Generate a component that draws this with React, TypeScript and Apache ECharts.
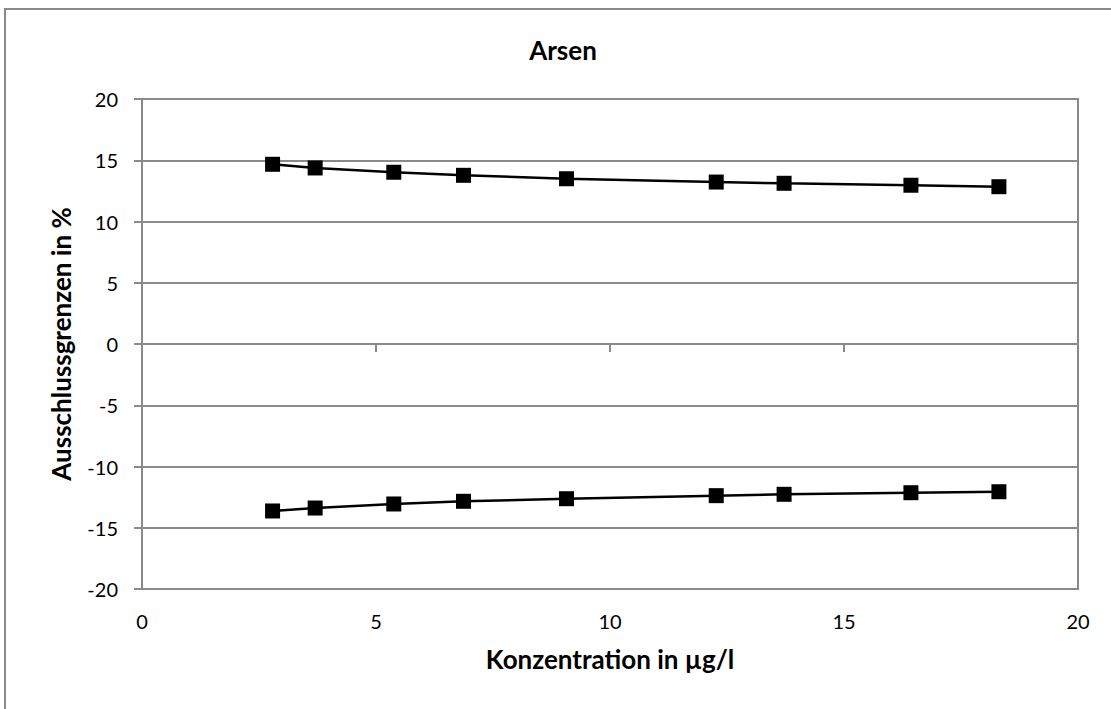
import React, { useEffect, useRef } from "react";
import * as echarts from "echarts";

const concentration = [2.79, 3.7, 5.38, 6.87, 9.07, 12.27, 13.72, 16.43, 18.31];
const upperLimit = [14.67, 14.37, 14.02, 13.77, 13.49, 13.22, 13.12, 12.96, 12.84];
const lowerLimit = [-13.63, -13.39, -13.06, -12.84, -12.63, -12.38, -12.27, -12.14, -12.06];
const titleText = "Arsen";
const xAxisTitle = "Konzentration in µg/l";
const yAxisTitle = "Ausschlussgrenzen in %";

const FONT = "Lato, 'Noto Sans', sans-serif";
const GRAY = "#8a8a8a";

export default function App() {
  const ref = useRef<HTMLDivElement>(null);
  useEffect(() => {
    if (!ref.current) return;
    const chart = echarts.init(ref.current, null, { renderer: "svg" });
    const pair = (ys: number[]) => concentration.map((x, i) => [x, ys[i]]);
    const seriesBase = {
      type: "line",
      symbol: "rect",
      symbolSize: 15,
      xAxisIndex: 0,
      yAxisIndex: 0,
      lineStyle: { color: "#000", width: 2.5 },
      itemStyle: { color: "#000" },
    };
    chart.setOption({
      animation: false,
      backgroundColor: "#fff",
      grid: {
        left: 142,
        top: 99,
        width: 936,
        height: 490,
        show: true,
        borderColor: GRAY,
        borderWidth: 2,
        containLabel: false,
      },
      graphic: [
        {
          type: "rect",
          shape: { x: 5, y: 9, width: 1300, height: 900 },
          style: { fill: "none", stroke: GRAY, lineWidth: 2 },
          silent: true,
        },
        {
          type: "text",
          x: 563,
          y: 50,
          style: {
            text: titleText,
            fontFamily: FONT,
            fontWeight: "bold",
            fontSize: 26,
            fill: "#000",
            textAlign: "center",
            textVerticalAlign: "middle",
          },
        },
      ],
      xAxis: [
        {
          type: "value",
          min: 0,
          max: 20,
          interval: 5,
          position: "bottom",
          axisLine: { show: false, onZero: false },
          axisTick: { show: false },
          splitLine: { show: false },
          axisLabel: { fontFamily: FONT, fontSize: 20, color: "#000", margin: 22 },
          name: xAxisTitle,
          nameLocation: "middle",
          nameGap: 57,
          nameTextStyle: { fontFamily: FONT, fontSize: 26, fontWeight: "bold", color: "#000" },
        },
        {
          type: "value",
          min: 0,
          max: 20,
          interval: 5,
          position: "bottom",
          axisLine: { show: true, onZero: true, lineStyle: { color: GRAY, width: 2 } },
          axisTick: { show: true, length: 8, inside: false, lineStyle: { color: GRAY, width: 2 } },
          splitLine: { show: false },
          axisLabel: { show: false },
        },
      ],
      yAxis: {
        type: "value",
        min: -20,
        max: 20,
        interval: 5,
        axisLine: { show: true, lineStyle: { color: GRAY, width: 2 } },
        axisTick: { show: true, length: 8, lineStyle: { color: GRAY, width: 2 } },
        splitLine: { show: true, lineStyle: { color: GRAY, width: 2 } },
        axisLabel: { fontFamily: FONT, fontSize: 20, color: "#000", margin: 24 },
        name: yAxisTitle,
        nameLocation: "middle",
        nameGap: 68,
        nameTextStyle: { fontFamily: FONT, fontSize: 26, fontWeight: "bold", color: "#000" },
      },
      series: [
        { ...seriesBase, name: "Obere Grenze", data: pair(upperLimit) },
        { ...seriesBase, name: "Untere Grenze", data: pair(lowerLimit) },
      ],
    });
    return () => chart.dispose();
  }, []);
  return (
    <div
      ref={ref}
      style={{ position: "absolute", left: 0, top: 0, width: 1111, height: 709 }}
    />
  );
}
